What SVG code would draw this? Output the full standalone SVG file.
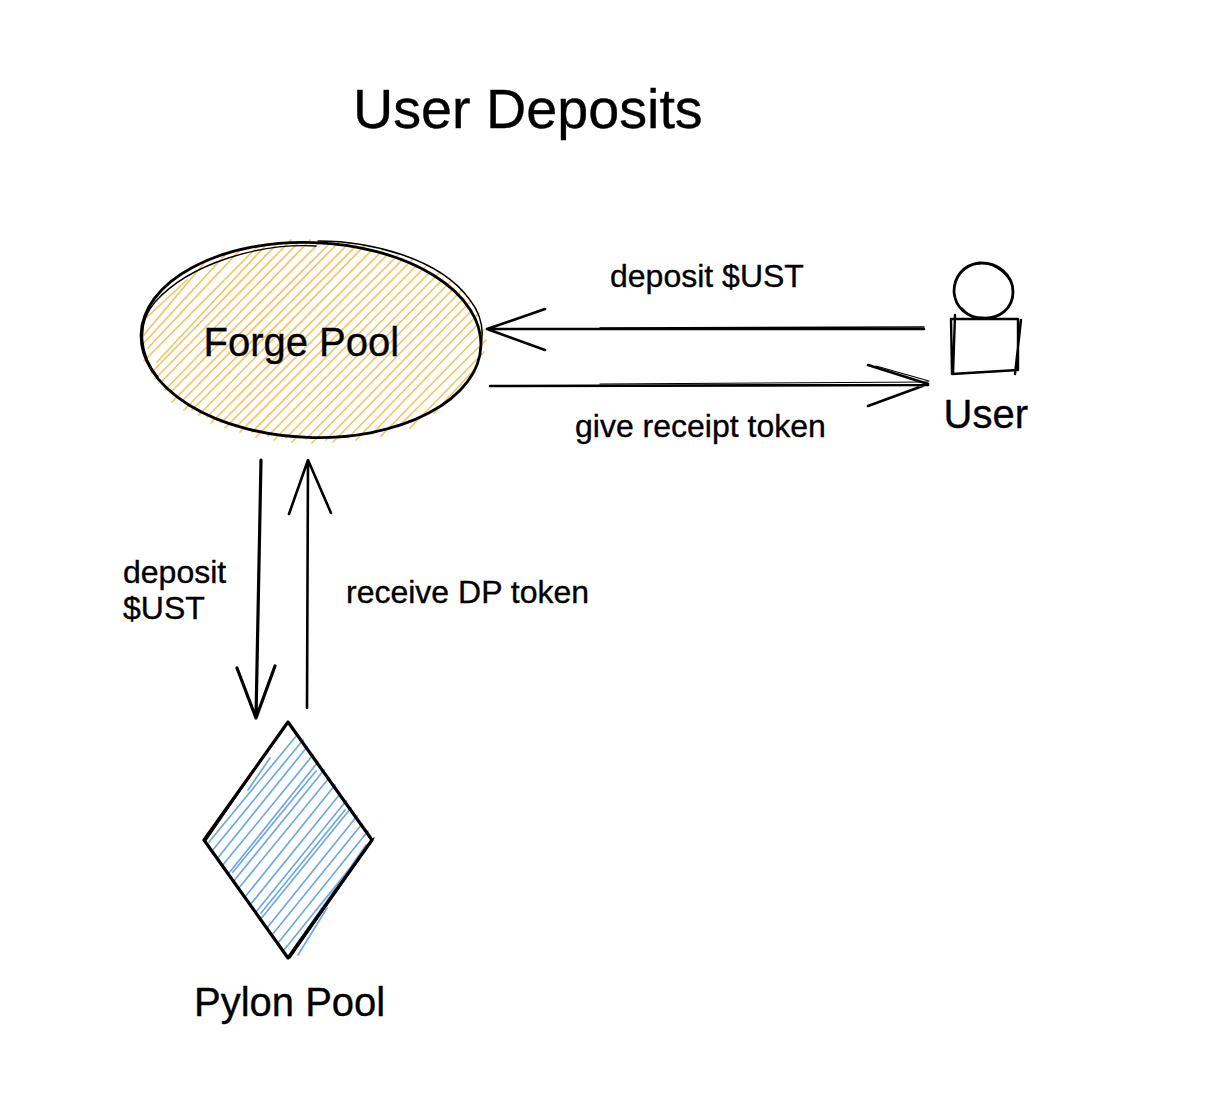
<svg xmlns="http://www.w3.org/2000/svg" width="1210" height="1114" viewBox="0 0 1210 1114">
<style>
text{font-family:"Liberation Sans",Arial,sans-serif;fill:#000;stroke:#000;stroke-width:.35px}
.lb{font-size:32px}.nm{font-size:40px}
.ink{fill:none;stroke:#000;stroke-linecap:round;stroke-linejoin:round}
.hatch{fill:none;stroke-linecap:round;stroke-width:1.7}
</style>
<rect width="1210" height="1114" fill="#fff"/>
<text x="353" y="128" font-size="55.7">User Deposits</text>
<g id="forge-pool">
<path class="hatch" stroke="#f4c465" d="M146 318L187 280M143 336L205 262M143 344L226 254M148 348L240 250M144 361L256 248M157 362L268 243M151 373L276 245M155 379L291 240M161 382L298 243M165 390L310 240M170 393L321 241M172 402L329 244M182 401L339 242M184 410L349 243M192 410L356 246M199 415L365 245M207 417L372 250M211 423L383 250M221 423L388 254M225 428L398 255M236 427L403 259M240 432L413 259M252 432L417 265M256 437L427 265M268 436L430 272M274 440L440 272M286 438L443 279M292 442L451 281M306 439L454 288M312 443L462 290M326 440L464 298M333 442L471 301M348 438L472 310M356 440L479 313M372 434L478 324M381 436L484 330M398 427L486 340M410 428L484 352M434 413L474 370"/>
<ellipse class="ink" cx="311" cy="340" rx="170" ry="97.5" stroke-width="2.8" transform="rotate(2 311 340)"/>
<path class="ink" stroke-width="1.4" d="M316 246C260 243 190 263 155 302C136 324 140 355 158 377M318 241C370 241 440 258 470 300C484 318 484 335 480 350"/>
<text class="nm" x="203.5" y="356">Forge Pool</text>
</g>
<g id="pylon-pool">
<path class="hatch" stroke="#6fa8e6" d="M209 842L297 735M212 851L303 740M217 859L307 747M222 866L313 755M229 873L318 762M233 882L324 770M238 889L329 778M245 897L335 785M250 905L340 794M256 912L346 801M260 920L351 808M267 928L357 816M272 935L362 824M278 943L368 831M284 950L371 842M233 872L316 771M261 913L345 810M294 948L366 845M248 790L270 758M298 955L327 908"/>
<path class="ink" stroke-width="3.2" d="M288 722L372 840L288 958L204 840Z"/>
<path class="ink" stroke-width="1.3" d="M205 842L286 724M290 958L374 838"/>
<text class="nm" x="194" y="1016">Pylon Pool</text>
</g>
<g id="user">
<path class="ink" stroke-width="2.8" d="M979 263C998 262 1013 275 1013 292C1013 308 1000 319 983 318C966 318 955 306 954 292C954 276 964 265 979 263Z"/>
<path class="ink" stroke-width="1.4" d="M962 308C970 317 976 320 985 319M978 264C990 262 1005 270 1011 283"/>
<path class="ink" stroke-width="2.4" d="M951 319L1018 319L1018 370L952 374ZM955 315L953 374M1021 320L1015 374"/>
<text class="nm" x="943.5" y="428">User</text>
</g>
<g id="connectors">
<path class="ink" stroke-width="2.6" d="M924 329L487 329M545 309L487 329L545 350"/>
<path class="ink" stroke-width="1.4" d="M924 327L600 328"/>
<path class="ink" stroke-width="2.6" d="M490 386L928 385M868 365L928 384L868 406"/>
<path class="ink" stroke-width="1.2" d="M600 384L928 382M876 366L929 381"/>
<path class="ink" stroke-width="3.2" d="M261 460L256 718M237 668L256 718L275 666"/>
<path class="ink" stroke-width="2.6" d="M307 708L308 460M289 514L308 460L331 513"/>
</g>
<g id="labels">
<text class="lb" x="610" y="287">deposit $UST</text>
<text class="lb" x="575" y="437">give receipt token</text>
<text class="lb" x="123" y="583">deposit</text>
<text class="lb" x="123" y="619">$UST</text>
<text class="lb" x="346" y="603">receive DP token</text>
</g>
</svg>
